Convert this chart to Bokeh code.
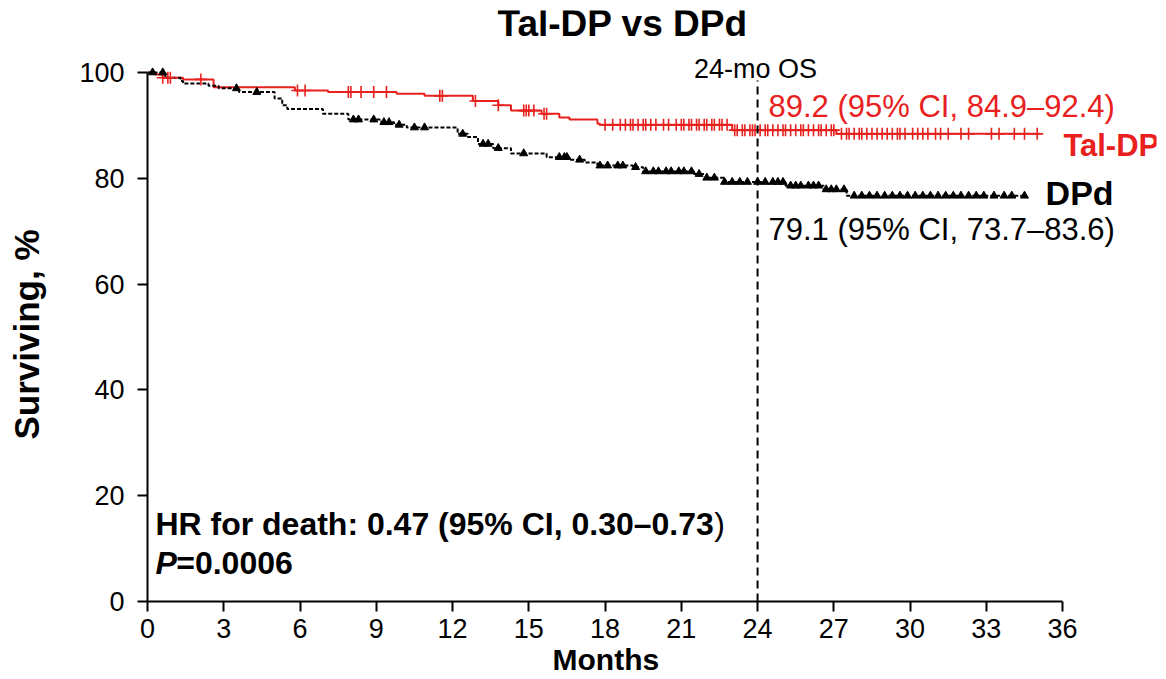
import numpy as np
from bokeh.plotting import figure
from bokeh.models import Label, FixedTicker, Range1d, Title
from bokeh.embed import file_html
from bokeh.resources import INLINE

# ---------------- data ----------------
tal_times = [0, 0.3, 0.6, 1.4, 2.6, 5.8, 7.1, 9.8, 10.9, 12.8, 13.8, 14.3, 15.5, 16.2,
             16.6, 17.7, 17.8, 23.0, 27.1, 35.1]
tal_surv = [100, 99.6, 99.0, 98.7, 97.2, 96.6, 96.3, 96.0, 95.6, 94.6, 93.8, 92.8, 92.2, 91.5,
            91.1, 90.3, 90.1, 89.1, 88.4, 88.4]
tal_censor = [0.6, 0.8, 0.9, 2.1, 5.9, 6.2, 7.9, 8.0, 8.4, 8.9, 9.4, 11.5, 11.6, 12.9, 13.8,
              14.8, 14.9, 15.0, 15.2, 15.6, 15.7, 18.0, 18.3, 18.6, 18.8, 19.0, 19.1, 19.3,
              19.5, 19.6, 19.8, 20.0, 20.3, 20.5, 20.8, 21.0, 21.1, 21.3, 21.4, 21.6, 21.7,
              21.9, 22.0, 22.2, 22.3, 22.5, 22.6, 22.8, 23.1, 23.2, 23.4, 23.5, 23.7, 23.8,
              23.9, 24.1, 24.3, 24.4, 24.6, 24.8, 25.0, 25.1, 25.3, 25.5, 25.7, 25.8, 26.0,
              26.2, 26.4, 26.5, 26.7, 26.9, 27.0, 27.3, 27.5, 27.6, 27.8, 28.0, 28.1, 28.3,
              28.5, 28.7, 28.9, 29.1, 29.3, 29.5, 29.6, 29.8, 30.1, 30.3, 30.5, 30.7, 31.0,
              31.2, 31.5, 32.0, 32.3, 33.2, 33.5, 34.1, 34.5, 35.0]

dpd_times = [0, 0.7, 1.3, 1.4, 2.4, 2.8, 3.6, 5.0, 5.3, 5.5, 6.9, 7.9, 9.2, 9.7, 10.2, 12.2,
             12.6, 13.0, 13.6, 14.3, 15.7, 16.6, 17.2, 17.7, 19.1, 19.5, 21.5, 22.0, 22.7,
             25.1, 26.6, 27.5, 34.5]
dpd_surv = [100, 99.0, 98.4, 97.9, 97.5, 97.0, 96.3, 95.1, 93.8, 93.1, 92.2, 91.1, 90.6, 90.1,
            89.6, 88.4, 87.8, 86.5, 85.7, 84.7, 84.0, 83.5, 83.0, 82.4, 82.1, 81.3, 80.8,
            80.1, 79.3, 78.6, 77.9, 76.7, 76.7]
dpd_censor = [0.2, 0.6, 3.5, 4.3, 8.1, 8.3, 8.9, 9.3, 9.5, 9.9, 10.5, 10.9, 12.4, 13.2, 13.4,
              13.8, 14.8, 16.2, 16.4, 16.5, 17.0, 17.8, 18.1, 18.5, 18.7, 19.2, 19.6, 19.9,
              20.1, 20.4, 20.6, 20.9, 21.1, 21.4, 21.7, 22.0, 22.3, 22.7, 23.0, 23.3, 23.6,
              24.0, 24.3, 24.6, 24.8, 25.0, 25.3, 25.5, 25.7, 26.0, 26.2, 26.4, 26.7, 26.9,
              27.1, 27.4, 27.8, 28.1, 28.4, 28.7, 29.0, 29.3, 29.6, 29.9, 30.2, 30.5, 30.8,
              31.1, 31.4, 31.7, 32.0, 32.3, 32.6, 32.9, 33.3, 33.7, 34.0, 34.5]

x_ticks = list(range(0, 37, 3))
y_ticks = [0, 20, 40, 60, 80, 100]

RED = "#e8201e"
FONT = "Liberation Sans"


def step_value(times, surv, t):
    times = np.asarray(times)
    surv = np.asarray(surv)
    idx = np.searchsorted(times, np.asarray(t), side="right") - 1
    return surv[np.clip(idx, 0, len(surv) - 1)]


PX_PER_MONTH = 25.42
FRAME_W = 1009
FRAME_H = 591
x_end = FRAME_W / PX_PER_MONTH
y_end = FRAME_H / 5.29

p = figure(width=1158, height=678, output_backend="svg", toolbar_location=None,
           x_range=Range1d(0, x_end), y_range=Range1d(0, y_end),
           min_border_left=147, min_border_right=2, min_border_top=10, min_border_bottom=77)
p.outline_line_color = None
p.grid.visible = False
p.background_fill_color = "white"

for ax, ticks, bnds in ((p.xaxis[0], x_ticks, (0, 36)), (p.yaxis[0], y_ticks, (0, 100))):
    ax.ticker = FixedTicker(ticks=ticks)
    ax.bounds = bnds
    ax.axis_line_width = 2
    ax.axis_line_color = "black"
    ax.major_tick_line_width = 2
    ax.major_tick_line_color = "black"
    ax.major_tick_out = 10
    ax.major_tick_in = 0
    ax.minor_tick_line_color = None
    ax.major_label_text_font = FONT
    ax.major_label_text_font_size = "27px"
    ax.major_label_text_color = "black"
p.xaxis.major_label_standoff = 7
p.yaxis.major_label_standoff = 13

# axis titles (side titles so they can sit off-centre like the reference)
p.add_layout(Title(text=" ", standoff=22, text_font_size="1px"), "left")
p.add_layout(Title(text="Surviving, %", align="left", offset=162, standoff=8,
                   vertical_align="top",
                   text_font=FONT, text_font_size="35px", text_font_style="bold",
                   text_color="black"), "left")
p.add_layout(Title(text="Months", align="left", offset=405, standoff=1,
                   text_font=FONT, text_font_size="30px", text_font_style="bold",
                   text_color="black"), "below")

# curves
p.step(tal_times, tal_surv, mode="after", line_color=RED, line_width=2)
p.step(dpd_times, dpd_surv, mode="after", line_color="black", line_width=2, line_dash="4 2")

# censor marks
p.scatter(tal_censor, step_value(tal_times, tal_surv, tal_censor), marker="cross",
          size=12, line_color=RED, line_width=1.6)
p.scatter(dpd_censor, step_value(dpd_times, dpd_surv, dpd_censor), marker="triangle",
          size=8, fill_color="black", line_color="black")

# 24-month reference line
p.segment(x0=[24], y0=[0], x1=[24], y1=[98.5], line_color="black", line_width=2,
          line_dash="8 5")


def lab(text, x, y, size, color="black", style="normal", align="left"):
    p.add_layout(Label(x=x, y=y, text=text, text_font=FONT, text_font_size=size,
                       text_color=color, text_font_style=style, text_align=align,
                       text_baseline="middle"))


lab("Tal-DP vs DPd", 18.69, 109.2, "37px", style="bold", align="center")
lab("24-mo OS", 23.92, 100.6, "27px", align="center")
lab("89.2 (95% CI, 84.9\u201392.4)", 24.43, 93.6, "31px", color=RED)
lab("Tal-DP", 36.03, 86.2, "31px", color=RED, style="bold")
lab("DPd", 35.33, 77.3, "34px", style="bold")
lab("79.1 (95% CI, 73.7\u201383.6)", 24.43, 70.3, "31px")
lab("HR for death: 0.47 (95% CI, 0.30\u20130.73", 0.31, 14.7, "32px", style="bold")
lab(")", 22.3, 14.7, "32px")
lab("P", 0.31, 7.2, "32px", style="bold italic")
lab("=0.0006", 1.13, 7.2, "32px", style="bold")

open("out.html", "w").write(file_html(p, INLINE))
